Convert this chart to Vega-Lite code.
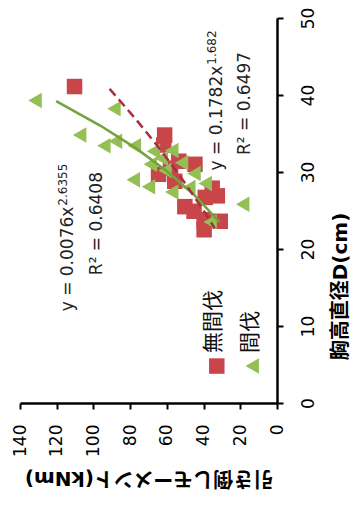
{
  "$schema": "https://vega.github.io/schema/vega-lite/v6.json",
  "width": 257,
  "height": 385,
  "autosize": {"type": "none"},
  "padding": {"left": 20, "top": 18, "right": 79, "bottom": 102},
  "background": "white",
  "config": {"view": {"stroke": null}, "font": "DejaVu Sans"},
  "datasets": {
    "pts": [
      {"群": "無間伐", "M": 110.3, "D": 41.1},
      {"群": "無間伐", "M": 61.2, "D": 34.8},
      {"群": "無間伐", "M": 61.7, "D": 33.5},
      {"群": "無間伐", "M": 53.5, "D": 31.4},
      {"群": "無間伐", "M": 44.7, "D": 31.0},
      {"群": "無間伐", "M": 64.5, "D": 29.7},
      {"群": "無間伐", "M": 55.7, "D": 28.8},
      {"群": "無間伐", "M": 35.3, "D": 27.9},
      {"群": "無間伐", "M": 39.1, "D": 26.7},
      {"群": "無間伐", "M": 32.5, "D": 26.9},
      {"群": "無間伐", "M": 50.2, "D": 25.5},
      {"群": "無間伐", "M": 45.2, "D": 24.9},
      {"群": "無間伐", "M": 39.7, "D": 23.8},
      {"群": "無間伐", "M": 39.7, "D": 22.5},
      {"群": "無間伐", "M": 30.9, "D": 23.6},
      {"群": "無間伐", "M": 58.0, "D": 30.5},
      {"群": "間伐", "M": 131.8, "D": 39.3},
      {"群": "間伐", "M": 88.8, "D": 38.2},
      {"群": "間伐", "M": 107.5, "D": 34.8},
      {"群": "間伐", "M": 94.3, "D": 33.4},
      {"群": "間伐", "M": 88.0, "D": 34.0},
      {"群": "間伐", "M": 77.7, "D": 33.4},
      {"群": "間伐", "M": 67.3, "D": 32.7},
      {"群": "間伐", "M": 57.3, "D": 32.8},
      {"群": "間伐", "M": 63.0, "D": 31.8},
      {"群": "間伐", "M": 69.0, "D": 31.0},
      {"群": "間伐", "M": 52.0, "D": 31.2},
      {"群": "間伐", "M": 78.3, "D": 29.0},
      {"群": "間伐", "M": 70.0, "D": 28.1},
      {"群": "間伐", "M": 57.3, "D": 27.4},
      {"群": "間伐", "M": 45.2, "D": 29.8},
      {"群": "間伐", "M": 39.1, "D": 28.5},
      {"群": "間伐", "M": 18.7, "D": 25.8},
      {"群": "間伐", "M": 36.4, "D": 23.5},
      {"群": "間伐", "M": 61.0, "D": 30.2},
      {"群": "間伐", "M": 48.0, "D": 28.0}
    ],
    "fitG": [
      {"M": 120.3, "D": 39.2},
      {"M": 96.1, "D": 36.0},
      {"M": 76.3, "D": 33.0},
      {"M": 59.4, "D": 30.0},
      {"M": 45.0, "D": 27.0},
      {"M": 31.3, "D": 23.5}
    ],
    "fitR": [
      {"M": 91.2, "D": 40.8},
      {"M": 77.4, "D": 37.0},
      {"M": 63.8, "D": 33.0},
      {"M": 51.4, "D": 29.0},
      {"M": 40.0, "D": 25.0},
      {"M": 34.0, "D": 22.7}
    ]
  },
  "layer": [
    {
      "data": {"name": "pts"},
      "mark": {"type": "point", "filled": true, "opacity": 1, "strokeWidth": 0, "size": 240},
      "encoding": {
        "x": {
          "field": "M", "type": "quantitative",
          "scale": {"domain": [0, 140], "reverse": true, "nice": false},
          "axis": {
            "orient": "bottom", "values": [0, 20, 40, 60, 80, 100, 120, 140], "tickCount": 20,
            "grid": false, "domainColor": "black", "domainWidth": 2.5,
            "tickColor": "black", "tickWidth": 2, "tickSize": 6,
            "labelAngle": 270, "labelAlign": "right", "labelBaseline": "middle",
            "labelOverlap": false, "labelFlush": false,
            "labelPadding": 15, "labelFont": "DejaVu Sans", "labelFontSize": 17, "labelColor": "black",
            "title": "引き倒しモーメント(kNm)", "titleAngle": 180, "titleBaseline": "bottom",
            "titlePadding": 11, "titleFont": "DejaVu Sans, Noto Sans CJK JP", "titleFontSize": 20,
            "titleFontWeight": "bold", "titleColor": "black"
          }
        },
        "y": {
          "field": "D", "type": "quantitative",
          "scale": {"domain": [0, 50], "nice": false},
          "axis": {
            "orient": "right", "values": [0, 10, 20, 30, 40, 50], "tickCount": 20,
            "grid": false, "domainColor": "black", "domainWidth": 2.5,
            "tickColor": "black", "tickWidth": 2, "tickSize": 6,
            "labelAngle": 270, "labelAlign": "center", "labelBaseline": "top",
            "labelOverlap": false, "labelFlush": false,
            "labelPadding": 17, "labelFont": "DejaVu Sans", "labelFontSize": 17, "labelColor": "black",
            "title": "胸高直径D(cm)", "titleAngle": 270, "titleBaseline": "top",
            "titlePadding": 14, "titleY": 268, "titleFont": "DejaVu Sans, Noto Sans CJK JP", "titleFontSize": 20,
            "titleFontWeight": "bold", "titleColor": "black"
          }
        },
        "color": {
          "field": "群", "type": "nominal",
          "scale": {"domain": ["無間伐", "間伐"], "range": ["#C8464A", "#93BF55"]},
          "legend": null
        },
        "shape": {
          "field": "群", "type": "nominal",
          "scale": {"domain": ["無間伐", "間伐"], "range": ["square", "triangle-left"]},
          "legend": null
        }
      }
    },
    {
      "data": {"name": "fitG"},
      "mark": {"type": "line", "color": "#76A23E", "strokeWidth": 2.5},
      "encoding": {
        "x": {"field": "M", "type": "quantitative"},
        "y": {"field": "D", "type": "quantitative"}
      }
    },
    {
      "data": {"name": "fitR"},
      "mark": {"type": "line", "color": "#A8303F", "strokeWidth": 2.5, "strokeDash": [9, 5]},
      "encoding": {
        "x": {"field": "M", "type": "quantitative"},
        "y": {"field": "D", "type": "quantitative"}
      }
    },
    {
      "data": {"values": [{}]},
      "mark": {"type": "text", "text": "y = 0.0076x", "angle": 270, "align": "right", "baseline": "middle", "font": "DejaVu Sans", "fontSize": 17, "color": "#222222"},
      "encoding": {"x": {"datum": 113.6, "type": "quantitative"}, "y": {"datum": 25.5, "type": "quantitative"}}
    },
    {
      "data": {"values": [{}]},
      "mark": {"type": "text", "text": "2.6355", "angle": 270, "align": "left", "baseline": "middle", "dx": 1, "dy": -5, "font": "DejaVu Sans", "fontSize": 12, "color": "#222222"},
      "encoding": {"x": {"datum": 113.6, "type": "quantitative"}, "y": {"datum": 25.5, "type": "quantitative"}}
    },
    {
      "data": {"values": [{}]},
      "mark": {"type": "text", "text": "R² = 0.6408", "angle": 270, "align": "center", "baseline": "middle", "font": "DejaVu Sans", "fontSize": 17, "color": "#222222"},
      "encoding": {"x": {"datum": 98.1, "type": "quantitative"}, "y": {"datum": 23.3, "type": "quantitative"}}
    },
    {
      "data": {"values": [{}]},
      "mark": {"type": "text", "text": "y = 0.1782x", "angle": 270, "align": "right", "baseline": "middle", "font": "DejaVu Sans", "fontSize": 17, "color": "#222222"},
      "encoding": {"x": {"datum": 32.5, "type": "quantitative"}, "y": {"datum": 43.8, "type": "quantitative"}}
    },
    {
      "data": {"values": [{}]},
      "mark": {"type": "text", "text": "1.682", "angle": 270, "align": "left", "baseline": "middle", "dx": 1, "dy": -5, "font": "DejaVu Sans", "fontSize": 12, "color": "#222222"},
      "encoding": {"x": {"datum": 32.5, "type": "quantitative"}, "y": {"datum": 43.8, "type": "quantitative"}}
    },
    {
      "data": {"values": [{}]},
      "mark": {"type": "text", "text": "R² = 0.6497", "angle": 270, "align": "center", "baseline": "middle", "font": "DejaVu Sans", "fontSize": 17, "color": "#222222"},
      "encoding": {"x": {"datum": 17.6, "type": "quantitative"}, "y": {"datum": 38.9, "type": "quantitative"}}
    },
    {
      "data": {"values": [{"群": "無間伐"}]},
      "mark": {"type": "point", "filled": true, "opacity": 1, "strokeWidth": 0, "size": 240},
      "encoding": {
        "x": {"datum": 32.8, "type": "quantitative"},
        "y": {"datum": 4.8, "type": "quantitative"},
        "color": {"field": "群", "type": "nominal"},
        "shape": {"field": "群", "type": "nominal"}
      }
    },
    {
      "data": {"values": [{"群": "間伐"}]},
      "mark": {"type": "point", "filled": true, "opacity": 1, "strokeWidth": 0, "size": 240},
      "encoding": {
        "x": {"datum": 13.5, "type": "quantitative"},
        "y": {"datum": 4.8, "type": "quantitative"},
        "color": {"field": "群", "type": "nominal"},
        "shape": {"field": "群", "type": "nominal"}
      }
    },
    {
      "data": {"values": [{}]},
      "mark": {"type": "text", "text": "無間伐", "angle": 270, "align": "left", "baseline": "middle", "font": "Noto Sans CJK JP", "fontSize": 21, "color": "#111111"},
      "encoding": {"x": {"datum": 34.2, "type": "quantitative"}, "y": {"datum": 6.5, "type": "quantitative"}}
    },
    {
      "data": {"values": [{}]},
      "mark": {"type": "text", "text": "間伐", "angle": 270, "align": "left", "baseline": "middle", "font": "Noto Sans CJK JP", "fontSize": 21, "color": "#111111"},
      "encoding": {"x": {"datum": 14.3, "type": "quantitative"}, "y": {"datum": 6.5, "type": "quantitative"}}
    }
  ]
}
